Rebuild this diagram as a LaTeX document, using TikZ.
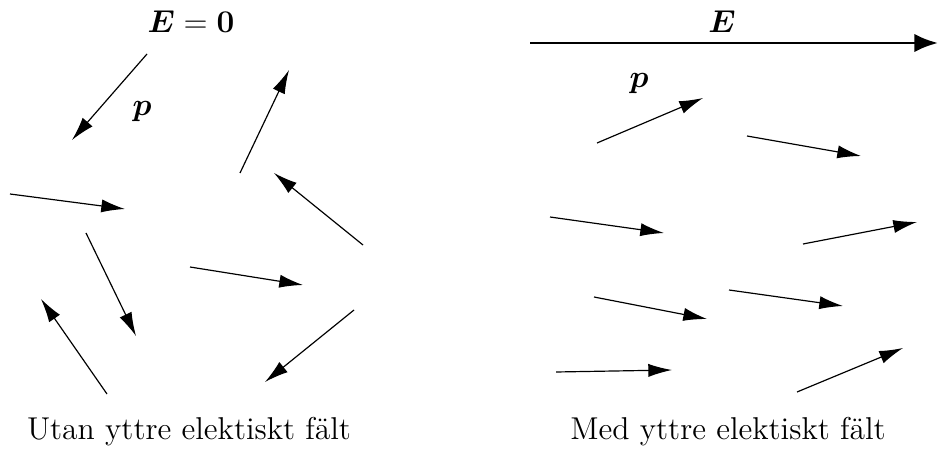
\documentclass[tikz,border=0pt]{standalone}
\usepackage{amsmath}
\usepackage{tikz}
\usetikzlibrary{arrows.meta}
\tikzset{
  dipol/.style={-{Latex[length=9pt,width=5pt]}, line width=0.45pt},
  faltpil/.style={-{Latex[length=9pt,width=7pt]}, line width=1.1pt},
  rubrik/.style={font=\large},
  etikett/.style={font=\large},
}

\begin{document}
\begin{tikzpicture}[x=0.38pt, y=-0.38pt]
\useasboundingbox (0,0) rectangle (938,457);

% utan yttre falt
\node[etikett] (Enoll) at (191,22) {$\boldsymbol{E}=\boldsymbol{0}$};
\node[etikett] (pnoll) at (142,112) {$\boldsymbol{p}$};
\foreach \xa/\ya/\xb/\yb in {147/54/72/140, 240/173/289/70, 10/194/125/209, 363/245/274/173,
  86/233/136/336, 190/267/303/285, 107/394/41/299, 354/310/265/382}
  \draw[dipol] (\xa,\ya) -- (\xb,\yb);
\node[rubrik] (vanster) at (189,432) {Utan yttre elektiskt fält};

% med yttre falt
\coordinate (Estart) at (530,43);
\coordinate (Eslut) at (938,43);
\draw[faltpil] (Estart) -- (Eslut);
\node[etikett] (Eett) at (722,22) {$\boldsymbol{E}$};
\node[etikett] (pett) at (639,84) {$\boldsymbol{p}$};
\foreach \xa/\ya/\xb/\yb in {597/143/703/98, 747/136/861/156, 550/217/664/233, 803/244/917/222,
  594/297/707/319, 729/290/843/306, 556/372/672/370, 797/392/903/348}
  \draw[dipol] (\xa,\ya) -- (\xb,\yb);
\node[rubrik] (hoger) at (728,432) {Med yttre elektiskt fält};
\end{tikzpicture}
\end{document}
